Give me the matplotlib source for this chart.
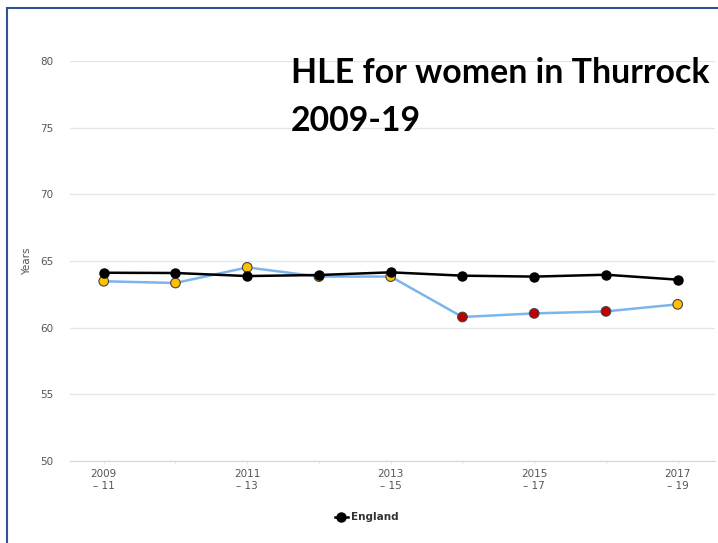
import matplotlib.pyplot as plt
from matplotlib.patches import Rectangle

# Data
periods = ['2009\n– 11', '2010\n– 12', '2011\n– 13', '2012\n– 14', '2013\n– 15',
           '2014\n– 16', '2015\n– 17', '2016\n– 18', '2017\n– 19']
england = [64.12, 64.1, 63.87, 63.95, 64.15, 63.9, 63.83, 63.97, 63.6]
thurrock = [63.48, 63.35, 64.52, 63.83, 63.83, 60.8, 61.07, 61.22, 61.75]
# colour of each Thurrock marker (amber = similar, red = worse)
thurrock_cols = ['#FFC000', '#FFC000', '#FFC000', '#FFC000', '#FFC000',
                 '#C00000', '#C00000', '#C00000', '#FFC000']

fig = plt.figure(figsize=(7.18, 5.43), dpi=100)
ax = fig.add_axes([70 / 718, 1 - 461 / 543, 645 / 718, 400 / 543])

x = list(range(len(periods)))

ax.plot(x, thurrock, color='#7CB5EC', lw=1.8, zorder=2)
ax.scatter(x, thurrock, s=48, c=thurrock_cols, edgecolors='#444444',
           linewidths=0.8, zorder=3)
ax.plot(x, england, color='black', lw=1.8, marker='o', markersize=6.5,
        markerfacecolor='black', markeredgecolor='black', zorder=4,
        label='England')

ax.set_xlim(-0.47, 8.52)
ax.set_ylim(50, 80)
ax.set_yticks([50, 55, 60, 65, 70, 75, 80])
ax.set_xticks(x)
ax.set_xticklabels([p if i % 2 == 0 else '' for i, p in enumerate(periods)])

ax.grid(axis='y', color='#e6e6e6', lw=1)
ax.set_axisbelow(True)
for s in ['top', 'right', 'left']:
    ax.spines[s].set_visible(False)
ax.spines['bottom'].set_color('#ccd6eb')
ax.tick_params(axis='y', length=0, pad=12, labelsize=7.5, labelcolor='#555555')
ax.tick_params(axis='x', length=2, color='#e0e6f0', pad=4, labelsize=7.5,
               labelcolor='#555555')
for t in ax.get_xticklabels() + ax.get_yticklabels():
    t.set_fontfamily('DejaVu Sans Condensed')
ax.set_ylabel('Years', fontsize=7.5, color='#555555', labelpad=6,
              fontfamily='DejaVu Sans Condensed')

leg = ax.legend(loc='upper center', bbox_to_anchor=(0.46, -0.105), frameon=False,
                prop={'family': 'DejaVu Sans Condensed', 'weight': 'bold', 'size': 7.5},
                handlelength=1.3, handletextpad=0.3, markerscale=1.0)
for t in leg.get_texts():
    t.set_color('#333333')

fig.text(291 / 718, 1 - 57 / 543, 'HLE for women in Thurrock\n2009-19',
         fontsize=24.4, fontweight='bold', fontfamily='Lato', va='top',
         ha='left', linespacing=1.6)

# slide frame
fig.patches.append(Rectangle((7 / 718, -0.1), 1.2, 1 - 8 / 543 + 0.1,
                             transform=fig.transFigure, fill=False,
                             edgecolor='#2F5496', lw=1.5))

fig.savefig('out.png', dpi=100)
